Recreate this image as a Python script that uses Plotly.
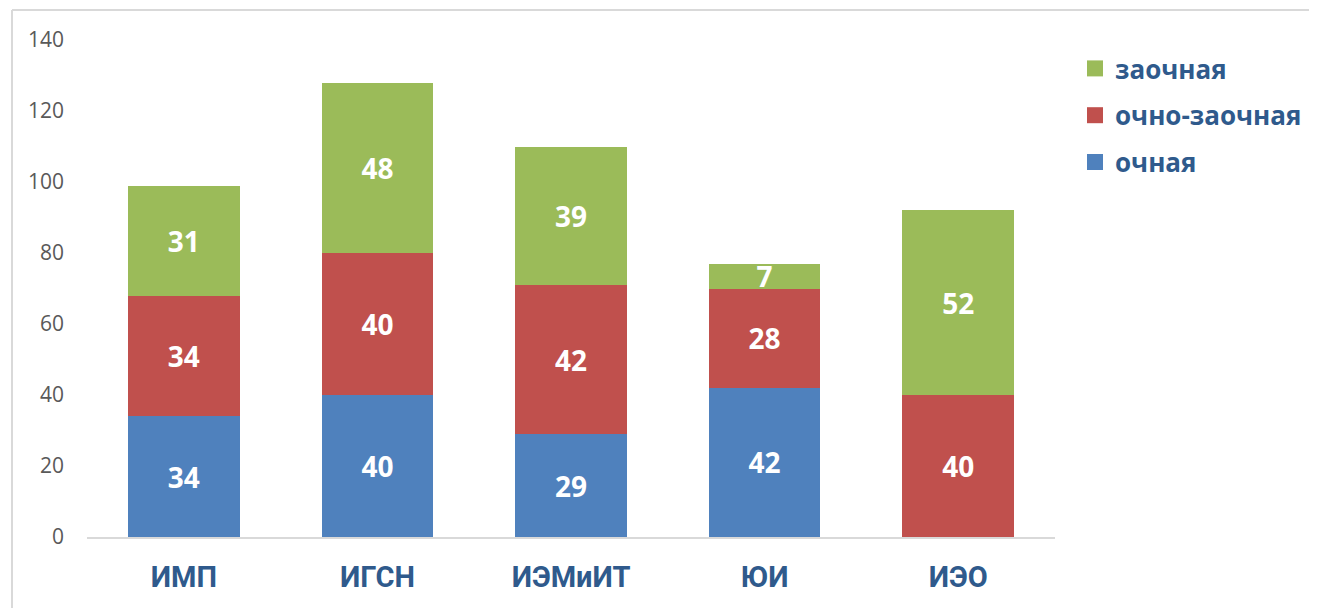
import plotly.graph_objects as go

categories = ["ИМП", "ИГСН", "ИЭМиИТ", "ЮИ", "ИЭО"]
ochnaya = [34, 40, 29, 42, None]
ochno_zaochnaya = [34, 40, 42, 28, 40]
zaochnaya = [31, 48, 39, 7, 52]
series_names = ["очная", "очно-заочная", "заочная"]
colors = ["#4F81BD", "#C0504D", "#9BBB59"]
legend_ranks = [3, 2, 1]
y_ticks = [0, 20, 40, 60, 80, 100, 120, 140]

OFF = 8  # page body margin
W, H = 1317, 608
L, R, T, B = 87 - OFF, W - 1055 + OFF, 40 - OFF, H - 537 + OFF
pw, ph = W - L - R, H - T - B


def px(x):
    return (x - OFF - L) / pw


def py(y):
    return (H - B - (y - OFF)) / ph


fig = go.Figure()
for i, (name, vals) in enumerate(zip(series_names, [ochnaya, ochno_zaochnaya, zaochnaya])):
    fig.add_trace(go.Bar(
        x=categories, y=vals, name=name,
        marker=dict(color=colors[i], line=dict(width=0)),
        text=[("" if v is None else str(v)) for v in vals],
        textposition="inside", insidetextanchor="middle", textangle=0,
        textfont=dict(family="Open Sans", size=28, color="white", weight="bold"),
        showlegend=False, hoverinfo="skip",
    ))
    fig.add_trace(go.Scatter(
        x=[None], y=[None], mode="markers", name=name,
        marker=dict(symbol="square", size=16, color=colors[i]),
        legendrank=legend_ranks[i], legendgroup=name, hoverinfo="skip",
    ))

fig.update_layout(
    width=W, height=H, barmode="stack", bargap=0.424,
    margin=dict(l=L, r=R, t=T, b=B, autoexpand=False),
    plot_bgcolor="white", paper_bgcolor="white",
    showlegend=True,
    uniformtext=dict(minsize=28, mode="show"),
    legend=dict(
        traceorder="grouped", tracegroupgap=10,
        x=px(1075), y=py(45), xanchor="left", yanchor="top",
        font=dict(family="Open Sans", size=26, color="#2F5A8C", weight="bold"),
        itemwidth=30, bgcolor="rgba(0,0,0,0)",
    ),
    xaxis=dict(
        showgrid=False, showline=True, linecolor="#D9D9D9", linewidth=2,
        ticks="", tickfont=dict(family="Roboto", size=29, color="#2F5A8C", weight="bold"),
        ticklabelstandoff=13, fixedrange=True,
    ),
    yaxis=dict(
        range=[0, 140], tickvals=y_ticks, showgrid=False, zeroline=False,
        showline=False, ticks="",
        tickfont=dict(family="Open Sans", size=21, color="#595959"),
        ticklabelstandoff=22, fixedrange=True,
    ),
    shapes=[
        dict(type="line", xref="paper", yref="paper", x0=px(12), x1=px(12), y0=py(10), y1=py(640),
             line=dict(color="#D9D9D9", width=2)),
        dict(type="line", xref="paper", yref="paper", x0=px(12), x1=px(1340), y0=py(10), y1=py(10),
             line=dict(color="#D9D9D9", width=2)),
    ],
)

fig.write_html("out.html")
